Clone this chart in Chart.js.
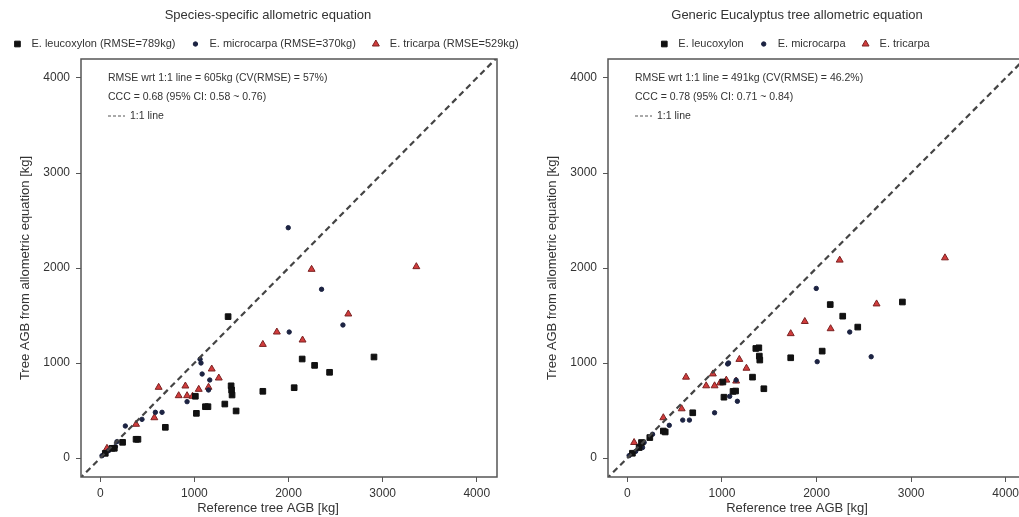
<!DOCTYPE html>
<html>
<head>
<meta charset="utf-8">
<script src="https://cdn.jsdelivr.net/npm/chart.js@4.4.0/dist/chart.umd.min.js"></script>
<style>
  html, body { margin: 0; padding: 0; background: #fff; overflow: hidden; }
  #wrap { position: relative; width: 1019px; height: 517px; overflow: hidden; }
  canvas { position: absolute; top: 0; }
  #left { left: 0; }
  #right { left: 526px; }
</style>
</head>
<body>
<div id="wrap">
  <canvas id="left" width="536" height="517"></canvas>
  <canvas id="right" width="542" height="517"></canvas>
</div>
<script>
// reference AGB (x) and predicted AGB, species-specific (left) and generic (right)
const leucoX        = [1358, 2145, 2277, 2436, 2908, 1727, 2060, 1390, 1395, 1400, 1010, 1117, 1144, 1021, 1323, 1443, 691, 380, 400, 237, 149, 53, 124];
const leucoSpecific = [1488, 1042, 975, 902, 1063, 702, 740, 760, 716, 663, 650, 540, 540, 470, 568, 495, 323, 197, 197, 165, 102, 49, 102];
const leucoGeneric  = [1153, 1615, 1493, 1378, 1642, 1055, 1125, 1160, 1073, 1031, 800, 701, 705, 640, 851, 729, 476, 284, 274, 215, 163, 50, 110];

const microX        = [1997, 2351, 2578, 2007, 1060, 1070, 1082, 1163, 585, 656, 266, 443, 177, 18, 88, 160, 1150, 922];
const microSpecific = [2424, 1776, 1400, 1326, 1040, 1000, 884, 821, 481, 481, 337, 407, 172, 24, 77, 119, 716, 593];
const microGeneric  = [1785, 1326, 1066, 1014, 990, 1000, 649, 597, 399, 399, 250, 344, 163, 25, 70, 110, 820, 476];

const triX        = [2245, 3358, 2635, 1876, 1727, 2149, 1184, 1259, 1150, 620, 904, 833, 922, 980, 1046, 574, 380, 71];
const triSpecific = [1986, 2014, 1516, 1326, 1196, 1242, 937, 842, 745, 744, 758, 656, 656, 650, 723, 424, 355, 102];
const triGeneric  = [2083, 2107, 1622, 1437, 1309, 1361, 1038, 945, 810, 851, 885, 760, 760, 790, 820, 518, 424, 163];

const tickValues = [0, 1000, 2000, 3000, 4000];
const oneToOne = [-300, 4300];

const titles = ["Species-specific allometric equation", "Generic Eucalyptus tree allometric equation"];
const legendLeft = ["E. leucoxylon (RMSE=789kg)", "E. microcarpa (RMSE=370kg)", "E. tricarpa (RMSE=529kg)"];
const legendRight = ["E. leucoxylon", "E. microcarpa", "E. tricarpa"];
const statsLeft = ["RMSE wrt 1:1 line = 605kg (CV(RMSE) = 57%)", "CCC = 0.68 (95% CI: 0.58 ~ 0.76)"];
const statsRight = ["RMSE wrt 1:1 line = 491kg (CV(RMSE) = 46.2%)", "CCC = 0.78 (95% CI: 0.71 ~ 0.84)"];
const xTitle = "Reference tree AGB [kg]";
const yTitle = "Tree AGB from allometric equation [kg]";

const FONT = '"Liberation Sans", Arial, sans-serif';
const TXT = '#333';

const styles = [
  { pointStyle: 'rect', radius: 4, bg: '#111', border: '#111' },
  { pointStyle: 'circle', radius: 2.2, bg: '#1c2342', border: '#1c2342' },
  { pointStyle: 'triangle', radius: 4, bg: '#d23c3c', border: '#7a2222' }
];

function drawMarker(ctx, st, x, y) {
  Chart.helpers.drawPoint(ctx, { pointStyle: st.pointStyle, radius: st.radius, borderWidth: 1 }, x, y);
}

const decor = {
  id: 'decor',
  afterDraw(chart, args, opts) {
    const ctx = chart.ctx, a = chart.chartArea;
    const cx = chart.width / 2;
    ctx.save();
    // box
    ctx.strokeStyle = '#555';
    ctx.lineWidth = 1.5;
    ctx.strokeRect(a.left, a.top, a.right - a.left, a.bottom - a.top);

    ctx.fillStyle = TXT;
    ctx.textBaseline = 'middle';
    ctx.textAlign = 'center';
    ctx.font = '13px ' + FONT;
    ctx.fillText(opts.title, cx, 15);

    // legend row
    ctx.font = '11px ' + FONT;
    const widths = opts.legend.map(t => ctx.measureText(t).width);
    const itemW = widths.map(w => 14 + w);
    const total = itemW.reduce((s, w) => s + w, 0) + 20 * (itemW.length - 1);
    let lx = cx - total / 2;
    ctx.textAlign = 'left';
    opts.legend.forEach((t, i) => {
      const st = styles[i];
      ctx.fillStyle = st.bg;
      ctx.strokeStyle = st.border;
      ctx.lineWidth = 1;
      drawMarker(ctx, st, lx, 44);
      ctx.fillStyle = TXT;
      ctx.fillText(t, lx + 14, 44);
      lx += itemW[i] + 20;
    });

    // stats text
    ctx.font = '10.5px ' + FONT;
    const sx = a.left + 27;
    opts.stats.forEach((t, i) => ctx.fillText(t, sx, a.top + 19 + i * 19));
    ctx.strokeStyle = '#555';
    ctx.lineWidth = 1;
    ctx.setLineDash([3, 2]);
    ctx.beginPath();
    ctx.moveTo(sx, a.top + 57);
    ctx.lineTo(sx + 17, a.top + 57);
    ctx.stroke();
    ctx.setLineDash([]);
    ctx.fillText("1:1 line", sx + 22, a.top + 57);

    // axis titles
    ctx.font = '13px ' + FONT;
    ctx.textAlign = 'center';
    ctx.fillText(xTitle, cx, 508);
    ctx.translate(a.left - 56, (a.top + a.bottom) / 2);
    ctx.rotate(-Math.PI / 2);
    ctx.fillText(yTitle, 0, 0);
    ctx.restore();
  }
};

function points(xs, ys) {
  return xs.map((x, i) => ({ x: x, y: ys[i] }));
}

function makeChart(id, sets, title, legend, stats, yWidth, padRight) {
  const datasets = [{
    type: 'line',
    data: oneToOne.map(v => ({ x: v, y: v })),
    borderColor: '#444',
    borderWidth: 2.2,
    borderDash: [6, 4],
    pointRadius: 0,
    fill: false
  }];
  sets.forEach((d, i) => {
    const st = styles[i];
    datasets.push({
      data: d,
      pointStyle: st.pointStyle,
      pointRadius: st.radius,
      backgroundColor: st.bg,
      borderColor: st.border,
      borderWidth: 1
    });
  });
  const tickFont = { family: FONT, size: 12 };
  new Chart(document.getElementById(id), {
    type: 'scatter',
    data: { datasets: datasets },
    options: {
      responsive: false,
      animation: false,
      layout: { padding: { top: 59, right: padRight, left: 0, bottom: 0 } },
      plugins: {
        legend: { display: false },
        tooltip: { enabled: false },
        decor: { title: title, legend: legend, stats: stats }
      },
      scales: {
        x: {
          type: 'linear', min: -205, max: 4215,
          afterBuildTicks: s => { s.ticks = tickValues.map(v => ({ value: v })); },
          afterFit: s => { s.height = 40; },
          grid: { drawOnChartArea: false, drawTicks: true, tickLength: 5, color: '#555' },
          border: { display: false },
          ticks: { font: tickFont, color: TXT, padding: 4, maxRotation: 0, autoSkip: false, callback: v => String(v) }
        },
        y: {
          type: 'linear', min: -200, max: 4200,
          afterBuildTicks: s => { s.ticks = tickValues.map(v => ({ value: v })); },
          afterFit: s => { s.width = yWidth; },
          grid: { drawOnChartArea: false, drawTicks: true, tickLength: 5, color: '#555' },
          border: { display: false },
          ticks: { font: tickFont, color: TXT, padding: 6, autoSkip: false, callback: v => String(v) }
        }
      }
    },
    plugins: [decor]
  });
}

makeChart('left',
  [points(leucoX, leucoSpecific), points(microX, microSpecific), points(triX, triSpecific)],
  titles[0], legendLeft, statsLeft, 81, 39);
makeChart('right',
  [points(leucoX, leucoGeneric), points(microX, microGeneric), points(triX, triGeneric)],
  titles[1], legendRight, statsRight, 82, 42);
</script>
</body>
</html>
